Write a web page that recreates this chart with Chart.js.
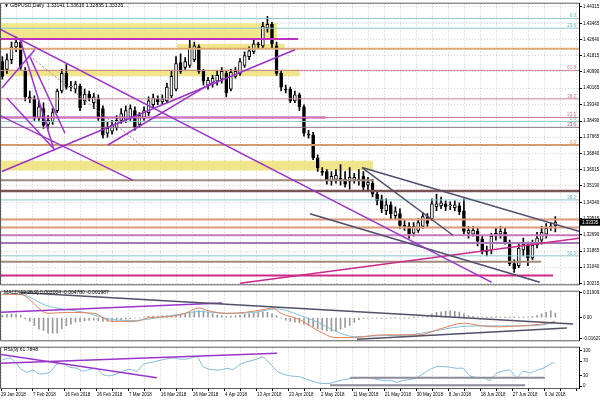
<!DOCTYPE html>
<html>
<head>
<meta charset="utf-8">
<title>GBPUSD Daily</title>
<script src="https://cdn.jsdelivr.net/npm/chart.js@4.4.1/dist/chart.umd.min.js"></script>
<style>
  html, body { margin: 0; padding: 0; background: #fff; }
  #wrap { position: relative; width: 600px; height: 400px; overflow: hidden; }
  .pane { position: absolute; left: 0; width: 600px; }
  .pane canvas { display: block; }
  .tag { position: absolute; left: 4px; font: 5px "Liberation Sans", Arial, sans-serif; color: #000; white-space: nowrap; }
</style>
</head>
<body>
<div id="wrap">
  <div class="pane" style="top:0;height:288px"><canvas id="priceChart" width="600" height="288"></canvas></div>
  <div class="pane" style="top:288px;height:56px"><canvas id="macdChart" width="600" height="56"></canvas></div>
  <div class="pane" style="top:344px;height:56px"><canvas id="rsiChart" width="600" height="56"></canvas></div>
  <div class="tag" style="top:2px">&#9660; GBPUSD,Daily&nbsp; 1.33141 1.33616 1.32835 1.33335</div>
  <div class="tag" style="top:289px">MACD(12,26,9) 0.003004 -0.004780 -0.001987</div>
  <div class="tag" style="top:346px">RSI(9) 61.7848</div>
</div>
<script>
const FONT = '"Liberation Sans", Arial, sans-serif';

// daily candles, one per bar (bar 0 = 29 Jan 2018)
const opens = [1.4152,1.4112,1.4162,1.4227,1.4252,1.4102,1.3972,1.3962,1.3867,1.3912,
  1.3832,1.3847,1.3902,1.4002,1.4092,1.4022,1.4012,1.4027,1.3952,1.3987,
  1.3942,1.3962,1.3912,1.3787,1.3797,1.3817,1.3852,1.3857,1.3867,1.3902,
  1.3832,1.3867,1.3892,1.3932,1.3962,1.3947,1.3952,1.3977,1.4012,1.4147,
  1.4122,1.4132,1.4162,1.4227,1.4102,1.4032,1.4037,1.4052,1.4062,1.4092,
  1.4012,1.4077,1.4092,1.4132,1.4177,1.4202,1.4242,1.4232,1.4322,1.4342,
  1.4232,1.4092,1.4012,1.4012,1.3952,1.3982,1.3922,1.3782,1.3777,1.3662,
  1.3592,1.3592,1.3542,1.3552,1.3557,1.3552,1.3542,1.3547,1.3552,1.3567,
  1.3522,1.3532,1.3477,1.3452,1.3392,1.3422,1.3367,1.3377,1.3317,1.3312,
  1.3277,1.3292,1.3312,1.3362,1.3352,1.3412,1.3417,1.3427,1.3417,1.3407,
  1.3417,1.3392,1.3277,1.3272,1.3287,1.3247,1.3187,1.3192,1.3262,1.3272,
  1.3282,1.3227,1.3122,1.3112,1.3192,1.3217,1.3152,1.3217,1.3242,1.3272,
  1.3307,1.3314];
const highs = [1.4177,1.4192,1.4252,1.4277,1.4267,1.4122,1.4002,1.3977,1.3952,1.3942,
  1.3877,1.3912,1.4012,1.4112,1.4137,1.4052,1.4052,1.4037,1.4012,1.4002,
  1.3992,1.3982,1.3927,1.3842,1.3852,1.3877,1.3912,1.3927,1.3932,1.3922,
  1.3892,1.3922,1.3972,1.3987,1.3977,1.3982,1.4042,1.4102,1.4177,1.4192,
  1.4172,1.4262,1.4252,1.4237,1.4112,1.4072,1.4082,1.4102,1.4122,1.4102,
  1.4112,1.4122,1.4167,1.4202,1.4227,1.4262,1.4252,1.4352,1.4382,1.4352,
  1.4252,1.4102,1.4032,1.4022,1.4002,1.3992,1.3932,1.3802,1.3792,1.3677,
  1.3612,1.3602,1.3592,1.3602,1.3627,1.3592,1.3612,1.3582,1.3602,1.3592,
  1.3562,1.3552,1.3492,1.3472,1.3452,1.3437,1.3412,1.3402,1.3342,1.3332,
  1.3332,1.3352,1.3382,1.3377,1.3452,1.3477,1.3462,1.3442,1.3437,1.3442,
  1.3432,1.3452,1.3312,1.3312,1.3302,1.3262,1.3212,1.3277,1.3302,1.3312,
  1.3302,1.3242,1.3142,1.3222,1.3252,1.3232,1.3242,1.3282,1.3312,1.3327,
  1.3332,1.3362];
const lows = [1.4062,1.4092,1.4142,1.4202,1.4112,1.3952,1.3942,1.3852,1.3852,1.3812,
  1.3812,1.3832,1.3892,1.3992,1.4012,1.4002,1.3992,1.3902,1.3932,1.3952,
  1.3912,1.3852,1.3762,1.3767,1.3782,1.3802,1.3837,1.3842,1.3852,1.3802,
  1.3817,1.3852,1.3877,1.3917,1.3932,1.3932,1.3942,1.3967,1.4002,1.4092,
  1.4112,1.4122,1.4152,1.4092,1.4032,1.4012,1.4022,1.4032,1.4042,1.3972,
  1.4002,1.4067,1.4082,1.4122,1.4162,1.4192,1.4222,1.4222,1.4302,1.4222,
  1.4082,1.4002,1.3992,1.3942,1.3942,1.3902,1.3772,1.3762,1.3652,1.3592,
  1.3572,1.3527,1.3522,1.3532,1.3522,1.3512,1.3502,1.3532,1.3522,1.3492,
  1.3492,1.3462,1.3422,1.3382,1.3372,1.3352,1.3352,1.3302,1.3292,1.3252,
  1.3262,1.3282,1.3302,1.3312,1.3342,1.3392,1.3402,1.3392,1.3397,1.3392,
  1.3372,1.3272,1.3252,1.3262,1.3212,1.3172,1.3162,1.3172,1.3242,1.3252,
  1.3222,1.3112,1.3077,1.3102,1.3162,1.3112,1.3142,1.3202,1.3222,1.3252,
  1.3292,1.3284];
const closes = [1.4077,1.4162,1.4227,1.4252,1.4122,1.3972,1.3962,1.3867,1.3922,1.3827,
  1.3852,1.3892,1.4002,1.4092,1.4022,1.4027,1.4037,1.3917,1.3987,1.3967,
  1.3972,1.3862,1.3777,1.3812,1.3827,1.3852,1.3887,1.3902,1.3912,1.3817,
  1.3877,1.3902,1.3952,1.3967,1.3947,1.3962,1.4022,1.4077,1.4142,1.4102,
  1.4152,1.4222,1.4232,1.4102,1.4052,1.4057,1.4067,1.4082,1.4102,1.3992,
  1.4097,1.4102,1.4152,1.4182,1.4207,1.4242,1.4237,1.4332,1.4342,1.4242,
  1.4092,1.4022,1.4007,1.3952,1.3982,1.3922,1.3787,1.3777,1.3662,1.3612,
  1.3587,1.3542,1.3567,1.3572,1.3552,1.3527,1.3562,1.3562,1.3547,1.3512,
  1.3537,1.3477,1.3442,1.3402,1.3422,1.3377,1.3387,1.3317,1.3312,1.3272,
  1.3312,1.3332,1.3362,1.3327,1.3427,1.3427,1.3432,1.3412,1.3422,1.3422,
  1.3387,1.3287,1.3292,1.3292,1.3237,1.3187,1.3182,1.3262,1.3277,1.3287,
  1.3232,1.3122,1.3097,1.3202,1.3222,1.3152,1.3217,1.3252,1.3282,1.3302,
  1.3312,1.3334];

const dateLabels = ['29 Jan 2018','7 Feb 2018','16 Feb 2018','26 Feb 2018','7 Mar 2018','16 Mar 2018',
  '26 Mar 2018','4 Apr 2018','13 Apr 2018','23 Apr 2018','2 May 2018','11 May 2018','21 May 2018',
  '30 May 2018','8 Jun 2018','18 Jun 2018','27 Jun 2018','6 Jul 2018'];
const priceTicks = [1.44315,1.43465,1.42640,1.41815,1.40990,1.40165,1.39340,1.38490,1.37665,
  1.36840,1.36015,1.35190,1.34340,1.33515,1.32690,1.31865,1.31040,1.30215];
const lastPrice = 1.33335;

// horizontal levels across the whole chart
const levelPrices = [1.4372,1.4322,1.4217,1.4107,1.3962,1.3867,1.3847,1.3817,1.3727,1.3492,1.3447,1.3347,1.3307,1.3267,1.3227,1.3162];
const levelColors = ['#8ec5cc','#8ec5cc','#dca878','#c9849a','#c9849a','#c9849a','#8ec5cc','#8a7080','#d49a70','#7a5454','#8ec5cc','#dc9a78','#dc9a78','#c77ab8','#a676b8','#8ec5cc'];
const levelWidths = [1,1,2,1,1,1,1,1,2,2.5,1,2,2,2,2,1];
// levels that stop at a given bar
const segPrices = [1.4267,1.3867,1.3547,1.3132,1.3062];
const segEndBars = [64.7,70.8,81.1,117.9,120.5];
const segColors = ['#c030c0','#c030c0','#a08878','#a08878','#d02888'];
// fibonacci tags
const tagPrices = [1.4372,1.4322,1.4107,1.3962,1.3867,1.3847,1.3817,1.3727,1.3447,1.3162];
const tagTexts = ['0.0','23.6','61.8','38.2','23.6','0.0','23.6','0.0','38.2','50.0'];
const tagColors = ['#6fb0b8','#6fb0b8','#c07890','#c07890','#c07890','#6fb0b8','#806070','#c89060','#6fb0b8','#6fb0b8'];
// supply / demand zones
const zoneTop = [1.4347,1.4242,1.4112,1.3647];
const zoneBottom = [1.4272,1.4217,1.4077,1.3597];
const zoneFrom = [-0.5,38.2,-0.5,-0.5];
const zoneTo = [60.1,61.8,65.1,81.1];
// trend lines [bar, price, bar, price]
const priceTrends = [
  [-0.5,1.4317,107.1,1.3027],
  [67.3,1.3377,117.6,1.3027],
  [78.7,1.3612,126.2,1.3287],
  [78.7,1.3612,98.6,1.3267],
  [52,1.3022,126.2,1.3252],
  [-0.1,1.4017,7.1,1.4212],
  [1,1.3967,11.5,1.3702],
  [3.85,1.4267,11.1,1.3717],
  [6,1.4177,13.7,1.3787],
  [-0.5,1.3877,28.6,1.3547],
  [-0.1,1.3592,64,1.4212],
  [23.1,1.3727,46.5,1.4052]
];
const priceTrendColors = ['#9a34c8','#4e4e6e','#4e4e6e','#4e4e6e','#c82a8a','#9a34c8','#9a34c8','#9a34c8','#9a34c8','#9a34c8','#9a34c8','#9a34c8'];
const dottedTrend = [6.7,1.4167,30.8,1.3717];

// MACD panel
const macdHist = [0.002,0.0025,0.003,0.0025,0.002,-0.001,-0.003,-0.006,-0.009,-0.010,
  -0.012,-0.012,-0.012,-0.0085,-0.0065,-0.005,-0.0036,-0.003,-0.0025,-0.0022,
  -0.002,-0.0025,-0.003,-0.003,-0.0025,-0.002,-0.0015,-0.001,-0.0008,-0.0005,
  -0.0003,0.0005,0.001,0.0012,0.0012,0.0015,0.0015,0.0018,0.002,0.0025,
  0.003,0.004,0.005,0.0055,0.005,0.004,0.003,0.002,0.0015,0.001,
  0.0012,0.0015,0.002,0.0025,0.003,0.0035,0.004,0.0045,0.004,0.003,
  0.0015,-0.0005,-0.002,-0.003,-0.0035,-0.004,-0.005,-0.006,-0.007,-0.0085,
  -0.0095,-0.010,-0.0105,-0.0105,-0.009,-0.0075,-0.006,-0.0035,-0.0015,-0.0006,
  -0.0005,-0.0004,-0.0005,-0.0006,-0.0004,-0.0003,-0.0002,-0.0003,-0.0002,-0.0001,
  0.0001,0.0003,0.0005,0.0008,0.003,0.004,0.0045,0.005,0.0052,0.005,
  0.0042,0.003,0.0015,0.001,0.0006,0.0003,0.0002,0.0001,0.0002,0.0001,
  0.0001,0.0002,0.0002,0.0001,0.0002,0.0005,0.001,0.0015,0.003,0.004,
  0.0055,0.0035];
const macdBars = [0,4,10,14,20,24,29,32,36,40,43,45,49,53,58,59,61,65,69,73,77,83,91,96,101,105,109,113,118,121];
const macdMain = [0.0180,0.0179,0.0033,0.0040,0.0033,-0.0029,-0.0029,-0.0001,0.0006,0.0033,0.0075,0.0054,0.0033,0.0040,0.0068,0.0075,0.0033,-0.0015,-0.0099,-0.0154,-0.0154,-0.0133,-0.0133,-0.0085,-0.0043,-0.0064,-0.0071,-0.0064,-0.0050,-0.0029];
const signalBars = [0,4,10,18,24,29,34,40,43,49,55,60,65,69,73,77,82,89,94,100,106,113,118,121];
const signalLine = [0.0182,0.0179,0.0089,0.0040,-0.0015,-0.0022,-0.0001,0.0033,0.0047,0.0033,0.0040,0.0068,0.0019,-0.0036,-0.0106,-0.0147,-0.0140,-0.0133,-0.0106,-0.0071,-0.0064,-0.0064,-0.0057,-0.0036];
const macdTicks = [0.019091,0,-0.016294];
const macdTrends = [
  [3.85,0.0193,124.9,-0.0050],
  [-0.5,0.0042,48.1,0.0112],
  [77.6,-0.0166,123.5,-0.0080]
];
const macdTrendColors = ['#505068','#9a34c8','#505068'];

// RSI panel
const rsiBars = [0,1.7,2.8,3.9,5.4,6.7,8.2,10.4,11.9,13.3,14.8,16.3,17.6,19.2,20.7,22,23.5,25,26.4,27.9,
  29.5,30.8,33,35.1,37.3,38.9,40.4,42.6,43.9,45.4,47.6,49.1,50.5,52,53.5,55.7,57,58.6,60.1,61.4,
  62.9,65.1,67.3,69.5,71.7,73.9,76.1,78.3,79.8,81.1,83.3,84.8,86.4,87.7,89.2,90.7,92,93.6,95.1,96.4,
  97.9,99.5,100.8,102.3,103.8,105.2,106.7,108.2,109.5,111.1,112.6,113.9,115.5,117,118.3,120.5,121];
const rsiValues = [74,79,68,50,39,45,34,39,61,63,53,50,42,47,50,32,29,34,42,47,
  42,61,68,74,79,76,76,82,55,47,45,50,47,61,68,76,82,63,42,34,
  29,26,16,8,8,16,21,24,24,21,16,16,11,16,18,24,34,47,55,55,
  53,50,50,29,24,24,16,37,42,45,24,42,37,45,50,66,62];
const rsiTicks = [100,70,30,0];
const rsiTrends = [
  [-0.5,89.5,33.8,23.7],
  [-0.5,63.9,60.1,92],
  [76.1,23.7,118.7,23.7],
  [71.7,2.6,114.4,2.6]
];
const rsiTrendColors = ['#9a34c8','#9a34c8','#8c8c9c','#8c8c9c'];
const rsiTrendWidths = [1.5,1.5,2,2];

const X_MIN = -0.3, X_MAX = 126.18;
const gridBars = [];
for (let v = X_MIN; v <= X_MAX; v += 3.5) gridBars.push(v);

const pts = (xs, ys) => xs.map((x, i) => ({ x, y: ys[i] }));
const seg = (t, color, width, order) => ({
  type: 'line', data: [{ x: t[0], y: t[1] }, { x: t[2], y: t[3] }],
  borderColor: color, borderWidth: width, pointRadius: 0, order
});

function labelFor(v) {
  const k = (v - X_MIN) / 7;
  if (Math.abs(k - Math.round(k)) < 1e-6 && dateLabels[Math.round(k)]) return dateLabels[Math.round(k)];
  return '';
}

function xAxis(showLabels) {
  return {
    type: 'linear', min: X_MIN, max: X_MAX, offset: false,
    grid: { color: '#c9c9c9', offset: false, drawTicks: showLabels, tickLength: 3, tickColor: '#000' },
    border: { display: false, dash: [1, 2] },
    ticks: {
      display: showLabels, autoSkip: false, maxRotation: 0, align: 'start', padding: 1,
      color: '#000', font: { size: 4.5, family: FONT }, callback: v => labelFor(v)
    },
    afterBuildTicks: s => { s.ticks = gridBars.map(v => ({ value: v })); },
    afterFit: s => { s.height = showLabels ? 12 : 0; }
  };
}

function yAxis(min, max, ticks, fmt, grid) {
  return {
    position: 'right', min, max,
    grid: { color: '#d2d2d2', drawOnChartArea: grid, drawTicks: true, tickLength: 3, tickColor: '#000' },
    border: { display: true, color: '#000', width: 1, dash: [1, 2] },
    ticks: { autoSkip: false, padding: 1, color: '#000', font: { size: 4.5, family: FONT }, callback: fmt },
    afterBuildTicks: s => { s.ticks = ticks.map(v => ({ value: v })); },
    afterFit: s => { s.width = 21; }
  };
}

function decor(extra) {
  return {
    id: 'decor',
    afterDatasetsDraw(chart) {
      const { ctx, chartArea: a } = chart;
      const y = chart.scales.y;
      ctx.save();
      ctx.strokeStyle = '#5a5a5a';
      ctx.lineWidth = 1;
      ctx.beginPath();
      ctx.moveTo(a.right, a.top - 0.5); ctx.lineTo(a.left - 0.5, a.top - 0.5);
      ctx.lineTo(a.left - 0.5, a.bottom + 0.5); ctx.lineTo(a.right, a.bottom + 0.5);
      ctx.stroke();
      ctx.font = '4.5px ' + FONT;
      if (extra.tags) {
        ctx.textAlign = 'right';
        ctx.textBaseline = 'bottom';
        tagPrices.forEach((p, i) => {
          ctx.fillStyle = tagColors[i];
          ctx.fillText(tagTexts[i], a.right - 3, y.getPixelForValue(p));
        });
      }
      if (extra.box) {
        const py = y.getPixelForValue(lastPrice);
        ctx.fillStyle = '#000';
        ctx.fillRect(a.right + 1, py - 3.5, 21, 7);
        ctx.fillStyle = '#fff';
        ctx.textAlign = 'left';
        ctx.textBaseline = 'middle';
        ctx.fillText(lastPrice.toFixed(5), a.right + 3, py + 0.5);
      }
      ctx.restore();
    }
  };
}

const common = {
  responsive: false, animation: false, devicePixelRatio: 1,
  plugins: { legend: { display: false }, tooltip: { enabled: false } }
};

// ---- price panel ----
const priceSets = [];
priceTrends.forEach((t, i) => priceSets.push(seg(t, priceTrendColors[i], 1.5, 0)));
priceSets.push(Object.assign(seg(dottedTrend, '#b08080', 1, 0), { borderDash: [2, 2] }));
levelPrices.forEach((p, i) => priceSets.push(seg([X_MIN, p, X_MAX, p], levelColors[i], levelWidths[i], 1)));
segPrices.forEach((p, i) => priceSets.push(seg([X_MIN, p, segEndBars[i], p], segColors[i], 2, 1)));
priceSets.push({
  type: 'bar', data: opens.map((o, i) => ({ x: i, y: [o, closes[i]] })),
  backgroundColor: opens.map((o, i) => closes[i] >= o ? '#fff' : '#000'),
  borderColor: '#000', borderWidth: 1, borderSkipped: false, barThickness: 3,
  minBarLength: 1, grouped: false, order: 2
});
priceSets.push({
  type: 'bar', data: lows.map((l, i) => ({ x: i, y: [l, highs[i]] })),
  backgroundColor: '#000', borderWidth: 0, barThickness: 1, grouped: false, order: 3
});
zoneTop.forEach((t, i) => priceSets.push({
  type: 'line', data: [{ x: zoneFrom[i], y: t }, { x: zoneTo[i], y: t }],
  borderWidth: 0, pointRadius: 0, fill: { value: zoneBottom[i] },
  backgroundColor: 'rgba(240,226,120,0.85)', order: 5
}));

new Chart(document.getElementById('priceChart'), {
  type: 'bar',
  data: { datasets: priceSets },
  options: Object.assign({}, common, {
    layout: { padding: { left: 1, top: 1, bottom: 1, right: 0 } },
    scales: {
      x: xAxis(false),
      y: yAxis(1.3017, 1.4447, priceTicks, v => v.toFixed(5), true)
    }
  }),
  plugins: [decor({ tags: true, box: true })]
});

// ---- MACD panel ----
const macdSets = [];
macdTrends.forEach((t, i) => macdSets.push(seg(t, macdTrendColors[i], 1.5, 0)));
macdSets.push({ type: 'line', data: pts(macdBars, macdMain), borderColor: '#e0805a', borderWidth: 1,
  pointRadius: 0, cubicInterpolationMode: 'monotone', order: 1 });
macdSets.push({ type: 'line', data: pts(signalBars, signalLine), borderColor: '#7fc0d4', borderWidth: 1,
  pointRadius: 0, cubicInterpolationMode: 'monotone', order: 1 });
macdSets.push({ type: 'bar', data: macdHist.map((v, i) => ({ x: i, y: v })), backgroundColor: '#9a9a9a',
  barThickness: 1, grouped: false, order: 3 });

new Chart(document.getElementById('macdChart'), {
  type: 'bar',
  data: { datasets: macdSets },
  options: Object.assign({}, common, {
    layout: { padding: { left: 1, top: 1, bottom: 1, right: 0 } },
    scales: {
      x: xAxis(false),
      y: yAxis(-0.0175, 0.02, macdTicks, v => v === 0 ? '0.00' : v.toFixed(6), false)
    }
  }),
  plugins: [decor({})]
});

// ---- RSI panel ----
const rsiSets = [];
rsiTrends.forEach((t, i) => rsiSets.push(seg(t, rsiTrendColors[i], rsiTrendWidths[i], 0)));
rsiSets.push({ type: 'line', data: pts(rsiBars, rsiValues), borderColor: '#7fb8d8', borderWidth: 1,
  pointRadius: 0, tension: 0.2, order: 1 });

new Chart(document.getElementById('rsiChart'), {
  type: 'line',
  data: { datasets: rsiSets },
  options: Object.assign({}, common, {
    layout: { padding: { left: 1, top: 1, bottom: 0, right: 0 } },
    scales: {
      x: xAxis(true),
      y: yAxis(-5.3, 107.9, rsiTicks, v => String(v), false)
    }
  }),
  plugins: [decor({})]
});
</script>
</body>
</html>
